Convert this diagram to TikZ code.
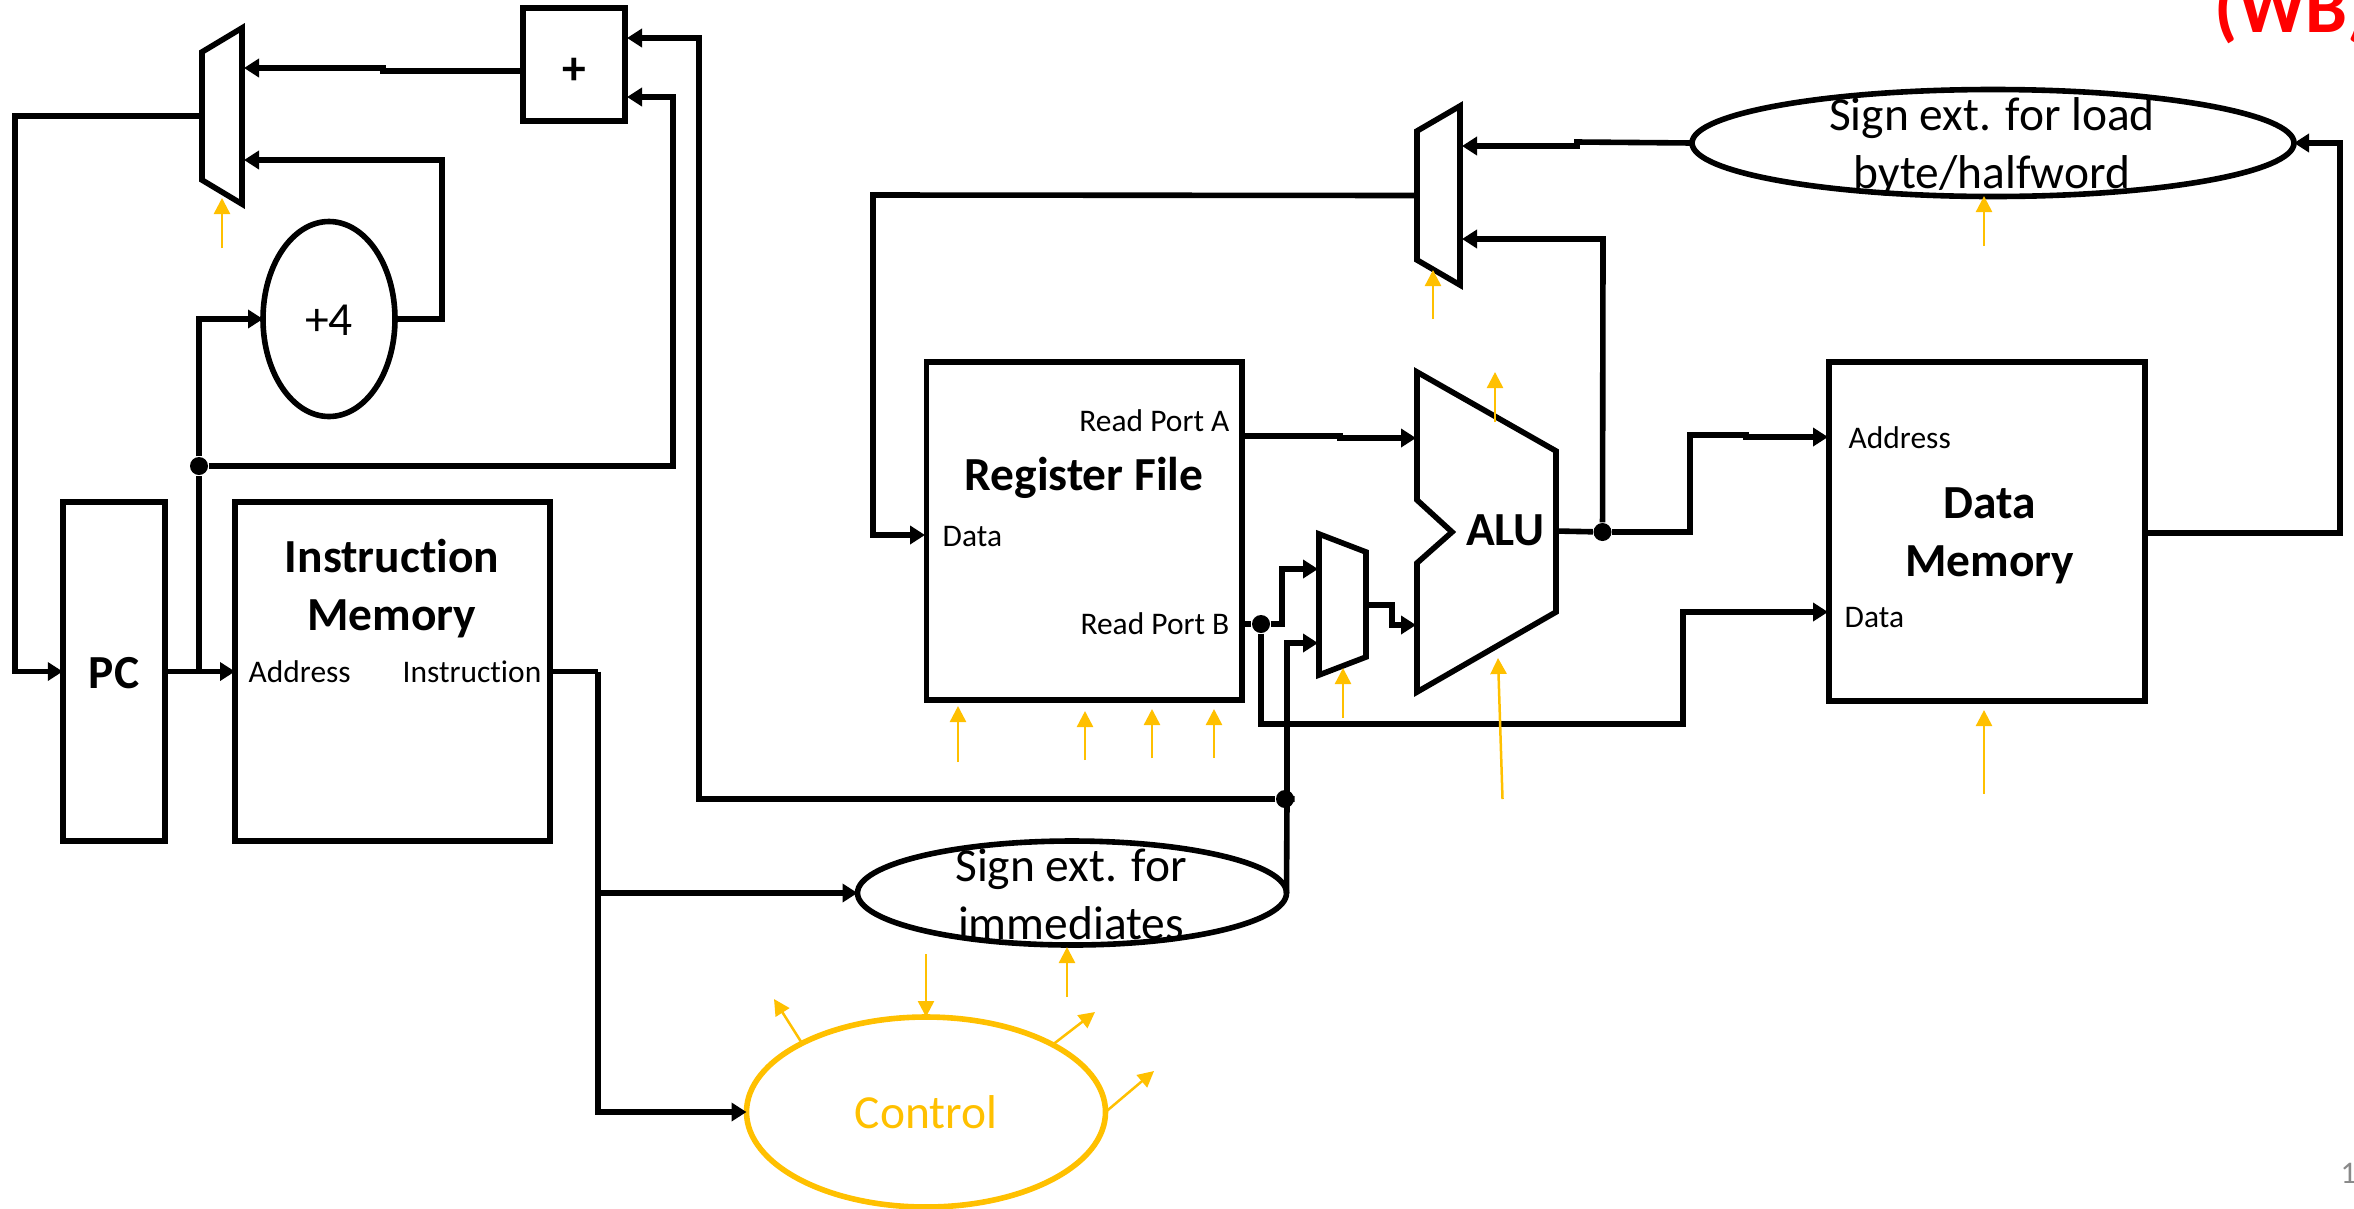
\documentclass[tikz,border=0pt]{standalone}
\usepackage{fontspec}
\setmainfont[Ligatures=NoCommon]{Carlito}
\usetikzlibrary{arrows.meta, positioning, calc, shapes.geometric}
\definecolor{cCtl}  {RGB}{255,192,0}
\definecolor{cWB}   {RGB}{255,0,0}
\definecolor{cPage} {RGB}{137,137,137}

\begin{document}
\begin{tikzpicture}[
  x=0.1mm, y=-0.1mm,
  % ── wires
  wire/.style={draw=black, line width=0.56mm},
  arr/.style ={wire, -{Triangle[length=1.5mm, width=1.8mm]}},
  ctl/.style ={draw=cCtl, line width=0.25mm, -{Triangle[length=1.6mm, width=1.6mm]}},
  dot/.style ={circle, fill=black, inner sep=0pt, minimum size=1.8mm},
  % ── blocks
  block/.style={draw=black, line width=0.56mm, rectangle, inner sep=0pt, outer sep=0pt},
  oval/.style ={block, ellipse},
  muxbox/.style={inner sep=0pt, outer sep=0pt},
  % ── text
  ttl/.style  ={inner sep=0pt, align=center, font=\fontsize{13.5}{16.5}\selectfont\bfseries},
  ovlbl/.style={inner sep=0pt, align=center, font=\fontsize{13.5}{16.5}\selectfont},
  port/.style ={inner sep=0pt, font=\fontsize{8.95}{10.6}\selectfont},
]
\useasboundingbox (0,0) rectangle (2354,1208);

%% ═══════════════════════════════════════════════════════════════
%%  FETCH — PC, adders, next-PC mux, instruction memory
%% ═══════════════════════════════════════════════════════════════

\node[block, minimum width=10.25mm, minimum height=33.9mm] (PC) at (114,671.5) {};
\node[ttl] (PCt) at (114,673) {PC};
\node[block, minimum width=31.5mm, minimum height=33.9mm] (IMEM) at (392.5,671.5) {};
\node[ttl] (IMEMt) at (392,589) {Instruction\\Memory};
\node[port, anchor=west] (IMaddr) at (248,672) {Address};
\node[port, anchor=east] (IMinst) at (542,672) {Instruction};

\node[block, minimum width=10.2mm, minimum height=11.3mm] (PLUS) at (574,64.5) {};
\node[ttl] (PLUSt) at (574,71) {+};
\node[oval, minimum width=13.2mm, minimum height=19.5mm] (INC) at (329,319) {};
\node[ovlbl] (INCt) at (329,320) {+4};

% next-PC mux
\node[muxbox, minimum width=4mm, minimum height=17.6mm] (MUXA) at (222,116) {};
\draw[wire] (MUXA.north east) -- ($(MUXA.north west)+(0,24)$) -- ($(MUXA.south west)+(0,-24)$)
  -- (MUXA.south east) -- cycle;

\node[dot] (DOTA) at (199,466) {};

\coordinate (PLUSo) at (523,71);
\coordinate (PLUSa) at (627,38);
\coordinate (PLUSb) at (627,97);
\coordinate (MUXAa) at (244,68);
\coordinate (MUXAb) at (244,160);

\draw[arr] (PLUSo) -- (383,71) -- (383,68) -- (MUXAa);
\draw[arr] (INC.east) -- (442,319) -- (442,160) -- (MUXAb);
\draw[arr] (MUXA.west) -- (15,116) -- (15,671.5) -- (PC.west);
\draw[arr] (PC.east) -- (IMEM.west);
\draw[wire] (199,671.5) -- (DOTA);
\draw[arr] (DOTA) -- (199,319) -- (INC.west);
\draw[arr] (DOTA) -- (673,466) -- (673,97) -- (PLUSb);

%% ═══════════════════════════════════════════════════════════════
%%  DECODE — sign extension, control, register file
%% ═══════════════════════════════════════════════════════════════

\node[oval, minimum width=42.9mm, minimum height=10.4mm] (SXI) at (1072,893) {};
\node[ovlbl] (SXIt) at (1071,894) {Sign ext. for\\immediates};

\node[oval, draw=cCtl, minimum width=35.9mm, minimum height=19mm, text=cCtl, font=\fontsize{13.5}{16}\selectfont] (CTRL) at (926,1112) {Control};

\node[block, minimum width=31.55mm, minimum height=33.8mm] (RF) at (1084.25,531) {};
\node[ttl] (RFt) at (1084,478) {Register File};
\node[port, anchor=east] (RFa) at (1230,421) {Read Port A};
\node[port, anchor=east] (RFb) at (1230,624) {Read Port B};
\node[port, anchor=west] (RFd) at (942,537) {Data};

\node[dot] (DOTB) at (1285,799) {};

\coordinate (RFin) at (925,535);
\coordinate (INSTo) at (598,671.5);

\draw[wire] (IMEM.east) -- (INSTo);
\draw[arr] (INSTo) -- (INSTo |- CTRL.west) -- (CTRL.west);
\draw[arr] (INSTo |- SXI.west) -- (SXI.west);
\draw[wire] (SXI.east) -- (1287,799) -- (DOTB);
\draw[arr] (DOTB) -- (699,799) -- (699,38) -- (PLUSa);

%% ═══════════════════════════════════════════════════════════════
%%  EXECUTE — operand mux and ALU
%% ═══════════════════════════════════════════════════════════════

\node[muxbox, minimum width=4.7mm, minimum height=14.1mm] (MUXC) at (1342.5,604.5) {};
\draw[wire] (MUXC.north west) -- ($(MUXC.north east)+(0,18)$) -- ($(MUXC.south east)+(0,-18)$)
  -- (MUXC.south west) -- cycle;

\node[muxbox, minimum width=13.9mm, minimum height=32mm] (ALU) at (1486.5,532) {};
\draw[wire] (ALU.north west) -- ($(ALU.north east)+(0,79)$) -- ($(ALU.south east)+(0,-80)$)
  -- (ALU.south west) -- ($(ALU.west)+(0,31)$) -- ($(ALU.west)+(35,0)$) -- ($(ALU.west)+(0,-32)$) -- cycle;
\node[ttl] (ALUt) at (1505.5,530) {ALU};

\node[dot] (DOTC) at (1261,624) {};
\node[dot] (DOTD) at (1602.5,532) {};

\coordinate (RFao) at (1242,436);
\coordinate (ALUa) at (1416,438);
\coordinate (ALUb) at (1416,625);
\coordinate (ALUo) at (1556,531);
\coordinate (MUXCa) at (1318,569);
\coordinate (MUXCb) at (1318,643);
\coordinate (MUXCo) at (1366,605);

\draw[arr] (RFao) -- (1340,436) -- (1340,438) -- (ALUa);
\draw[wire] (1242,624) -- (DOTC);
\draw[arr] (DOTC) -- (1282,624) -- (1282,569) -- (MUXCa);
\draw[arr] (1287,799) -- (1287,643) -- (MUXCb);
\draw[arr] (MUXCo) -- (1392,605) -- (1392,625) -- (ALUb);

%% ═══════════════════════════════════════════════════════════════
%%  MEMORY / WRITE-BACK
%% ═══════════════════════════════════════════════════════════════

\node[block, minimum width=31.6mm, minimum height=33.9mm] (DMEM) at (1987,531.5) {};
\node[ttl] (DMEMt) at (1990,536) {Data\\Memory};
\node[port, anchor=west] (DMaddr) at (1848,438) {Address};
\node[port, anchor=west] (DMdata) at (1844,618) {Data};

\node[oval, minimum width=60.2mm, minimum height=10.7mm] (SXL) at (1993,143) {};
\node[ovlbl] (SXLt) at (1992,147) {Sign ext. for load\\byte/halfword};

\node[muxbox, minimum width=4.3mm, minimum height=17.9mm] (MUXB) at (1438.5,195.5) {};
\draw[wire] (MUXB.north east) -- ($(MUXB.north west)+(0,25)$) -- ($(MUXB.south west)+(0,-25)$)
  -- (MUXB.south east) -- cycle;

\coordinate (DMa) at (1828,437);
\coordinate (DMb) at (1828,612);
\coordinate (DMo) at (2145,533);
\coordinate (MUXBa) at (1462,146);
\coordinate (MUXBb) at (1462,239);

\draw[wire] (ALUo) -- (DOTD);
\draw[arr] (DOTD) -- (1690,532) -- (1690,435) -- (1746,435) -- (1746,437) -- (DMa);
\draw[arr] (DOTC) -- (1261,724) -- (1683,724) -- (1683,612) -- (DMb);
\draw[arr] (DMo) -- (2340,533) -- (2340,143) -- (SXL.east);
\draw[arr] (SXL.west) -- (1577,142) -- (1577,146) -- (MUXBa);
\draw[arr] (DOTD) -- (1603,239) -- (MUXBb);
\draw[arr] (MUXB.west) -- (873,195) -- (873,535) -- (RFin);

%% ═══════════════════════════════════════════════════════════════
%%  CONTROL SIGNALS
%% ═══════════════════════════════════════════════════════════════

\foreach \sname/\xa/\ya/\xb/\yb in {
  a/222/248/222/198,    b/958/762/958/706,    c/1085/760/1085/711,
  d/1152/758/1152/709,  e/1214/758/1214/709,  f/1343/718/1343/668,
  g/1502.5/799/1498/658, h/1495/422/1495/372, j/1433/319/1433/270,
  k/1984/246/1984/196,  l/1984/794/1984/710,  m/1067/997/1067/947
}{
  \coordinate (CS\sname s) at (\xa,\ya);
  \coordinate (CS\sname e) at (\xb,\yb);
  \draw[ctl] (CS\sname s) -- (CS\sname e);
}

% signals around the control block
\coordinate (CSin) at (926,954);
\coordinate (CSn) at (774,999);
\coordinate (CSo) at (1095,1012);
\coordinate (CSp) at (1154,1071);
\draw[ctl] (CSin) -- (CTRL.north);
\draw[ctl] (CTRL.151) -- (CSn);
\draw[ctl] (CTRL.28.5) -- (CSo);
\draw[ctl] (CTRL.east) -- (CSp);

%% ═══════════════════════════════════════════════════════════════
%%  SLIDE LEFTOVERS — cut off at the page edge
%% ═══════════════════════════════════════════════════════════════

\node[inner sep=0pt, anchor=base west, text=cWB, font=\fontsize{21.3}{24}\selectfont\bfseries] (WB) at (2214,32) {(WB)};
\node[inner sep=0pt, anchor=west, text=cPage, font=\fontsize{8.95}{10.6}\selectfont] (PAGE) at (2340,1173) {1};

\end{tikzpicture}
\end{document}
